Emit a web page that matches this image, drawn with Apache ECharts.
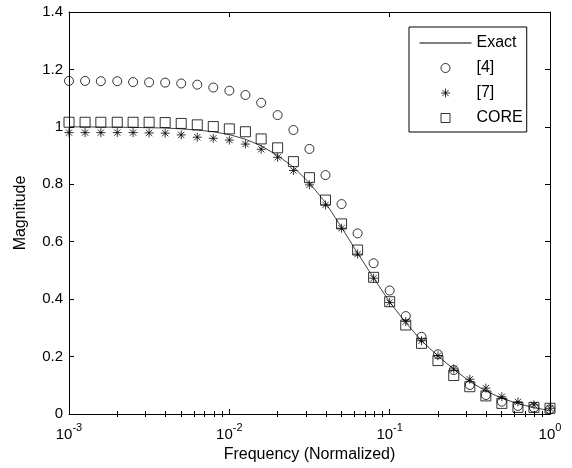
<!DOCTYPE html>
<html><head><meta charset="utf-8">
<script src="https://cdn.jsdelivr.net/npm/echarts@6/dist/echarts.min.js"></script>
<style>html,body{margin:0;padding:0;background:#fff}#c{width:572px;height:468px}</style>
</head><body><div id="c"></div>
<script>
// ---- data ----
const freq = [0.001, 0.00126, 0.00158, 0.002, 0.00251, 0.00316, 0.00398, 0.00501, 0.00631, 0.00794,
              0.01, 0.0126, 0.0158, 0.02, 0.0251, 0.0316, 0.0398, 0.0501, 0.0631, 0.0794,
              0.1, 0.126, 0.158, 0.2, 0.251, 0.316, 0.398, 0.501, 0.631, 0.794, 1];
const exact = [1.000, 1.000, 0.999, 0.999, 0.998, 0.997, 0.996, 0.993, 0.989, 0.983,
               0.973, 0.957, 0.934, 0.900, 0.860, 0.805, 0.736, 0.650, 0.560, 0.474,
               0.390, 0.318, 0.255, 0.202, 0.156, 0.113, 0.080, 0.055, 0.036, 0.022, 0.012];
const ref4 = [1.160, 1.160, 1.159, 1.159, 1.156, 1.155, 1.154, 1.151, 1.147, 1.137,
              1.126, 1.111, 1.084, 1.041, 0.989, 0.923, 0.832, 0.731, 0.629, 0.525,
              0.430, 0.341, 0.269, 0.208, 0.153, 0.101, 0.066, 0.043, 0.028, 0.022, 0.016];
const ref7 = [0.980, 0.980, 0.980, 0.980, 0.980, 0.979, 0.978, 0.972, 0.964, 0.960,
              0.954, 0.940, 0.922, 0.894, 0.848, 0.798, 0.728, 0.647, 0.557, 0.473,
              0.388, 0.322, 0.255, 0.203, 0.157, 0.121, 0.090, 0.060, 0.042, 0.032, 0.020];
const core = [1.016, 1.016, 1.016, 1.016, 1.016, 1.016, 1.015, 1.012, 1.007, 1.001,
              0.993, 0.983, 0.958, 0.927, 0.879, 0.823, 0.745, 0.662, 0.571, 0.476,
              0.391, 0.310, 0.246, 0.186, 0.134, 0.095, 0.063, 0.037, 0.023, 0.023, 0.020];
const seriesNames = ['Exact', '[4]', '[7]', 'CORE'];
const xMajor = [0.001, 0.01, 0.1, 1];
const xMinor = [0.002, 0.003, 0.004, 0.005, 0.006, 0.007, 0.008, 0.009,
                0.02, 0.03, 0.04, 0.05, 0.06, 0.07, 0.08, 0.09,
                0.2, 0.3, 0.4, 0.5, 0.6, 0.7, 0.8, 0.9];
const yMin = 0, yMax = 1.4, yStep = 0.2;
const xTitle = 'Frequency (Normalized)';
const yTitle = 'Magnitude';

// ---- chart ----
const FONT = '"Liberation Sans", Arial, sans-serif';
const STAR = 'path://M4,0L4,8M0,4L8,4M1.2,1.2L6.8,6.8M1.2,6.8L6.8,1.2';
const SQUARE = 'path://M0,0L10,0L10,10L0,10Z';
const pairs = arr => freq.map((f, i) => [f, arr[i]]);

function xAxisDef(pos, ticks, len, opts) {
  return Object.assign({
    type: 'log', logBase: 10, min: 0.001, max: 1, position: pos,
    gridIndex: 0,
    axisLine: { show: false },
    axisTick: { show: true, inside: true, length: len, customValues: ticks,
                lineStyle: { color: '#000', width: 1 } },
    axisLabel: { show: false },
    splitLine: { show: false },
    minorTick: { show: false }
  }, opts || {});
}

const hollow = { color: 'rgba(0,0,0,0)', borderColor: '#000', borderWidth: 1 };
const noFill = { color: 'rgba(0,0,0,0)', borderColor: 'rgba(0,0,0,0)', borderWidth: 0 };

const option = {
  animation: false,
  backgroundColor: '#fff',
  grid: { left: 69, right: 22, top: 12, bottom: 54, show: false },
  xAxis: [
    xAxisDef('bottom', xMajor, 5, {
      axisLine: { show: true, onZero: false, lineStyle: { color: '#000', width: 1 } },
      axisLabel: {
        show: true, customValues: xMajor, margin: 8,
        formatter: v => '{b|10}{s|' + Math.round(Math.log10(v)) + '}',
        rich: {
          b: { fontSize: 15, fontFamily: FONT, color: '#000', lineHeight: 20, verticalAlign: 'bottom' },
          s: { fontSize: 11, fontFamily: FONT, color: '#000', lineHeight: 12, verticalAlign: 'top' }
        }
      },
      name: xTitle, nameLocation: 'middle', nameGap: 33,
      nameTextStyle: { fontSize: 16, fontFamily: FONT, color: '#000' }
    }),
    xAxisDef('bottom', xMinor, 3),
    xAxisDef('top', xMajor, 5, {
      axisLine: { show: true, onZero: false, lineStyle: { color: '#000', width: 1 } }
    }),
    xAxisDef('top', xMinor, 3)
  ],
  yAxis: [
    {
      type: 'value', min: yMin, max: yMax, interval: yStep, position: 'left',
      axisLine: { show: true, onZero: false, lineStyle: { color: '#000', width: 1 } },
      axisTick: { show: true, inside: true, length: 5, lineStyle: { color: '#000' } },
      axisLabel: { fontSize: 15, fontFamily: FONT, color: '#000', margin: 6 },
      splitLine: { show: false },
      name: yTitle, nameLocation: 'middle', nameGap: 40, nameRotate: 90,
      nameTextStyle: { fontSize: 16, fontFamily: FONT, color: '#000' }
    },
    {
      type: 'value', min: yMin, max: yMax, interval: yStep, position: 'right',
      axisLine: { show: true, onZero: false, lineStyle: { color: '#000', width: 1 } },
      axisTick: { show: true, inside: true, length: 5, lineStyle: { color: '#000' } },
      axisLabel: { show: false },
      splitLine: { show: false }
    }
  ],
  legend: {
    orient: 'vertical', left: 409, top: 27,
    padding: [8, 4, 6, 10],
    itemWidth: 52, itemHeight: 9, itemGap: 9, itemTextGap: 6,
    symbolKeepAspect: true,
    textStyle: { fontSize: 16, fontFamily: FONT, color: '#000', lineHeight: 16 },
    borderColor: '#000', borderWidth: 1, borderRadius: 0, backgroundColor: '#fff',
    data: [
      { name: seriesNames[0], itemStyle: noFill, lineStyle: { color: '#000', width: 1 } },
      { name: seriesNames[1], icon: 'circle', itemStyle: hollow },
      { name: seriesNames[2], icon: STAR, itemStyle: hollow },
      { name: seriesNames[3], icon: SQUARE, itemStyle: hollow }
    ],
    selectedMode: false
  },
  series: [
    {
      name: seriesNames[0], type: 'line', data: pairs(exact),
      symbol: 'none', smooth: false,
      lineStyle: { color: '#444', width: 1 },
      itemStyle: { color: '#444' },
      z: 2
    },
    {
      name: seriesNames[1], type: 'scatter', data: pairs(ref4),
      symbol: 'circle', symbolSize: 9, itemStyle: hollow, z: 3
    },
    {
      name: seriesNames[2], type: 'scatter', data: pairs(ref7),
      symbol: STAR, symbolSize: 9, itemStyle: hollow, z: 3
    },
    {
      name: seriesNames[3], type: 'scatter', data: pairs(core),
      symbol: 'rect', symbolSize: 10, itemStyle: hollow, z: 3
    }
  ]
};

const chart = echarts.init(document.getElementById('c'), null, { renderer: 'canvas' });
chart.setOption(option);
</script>
</body></html>
